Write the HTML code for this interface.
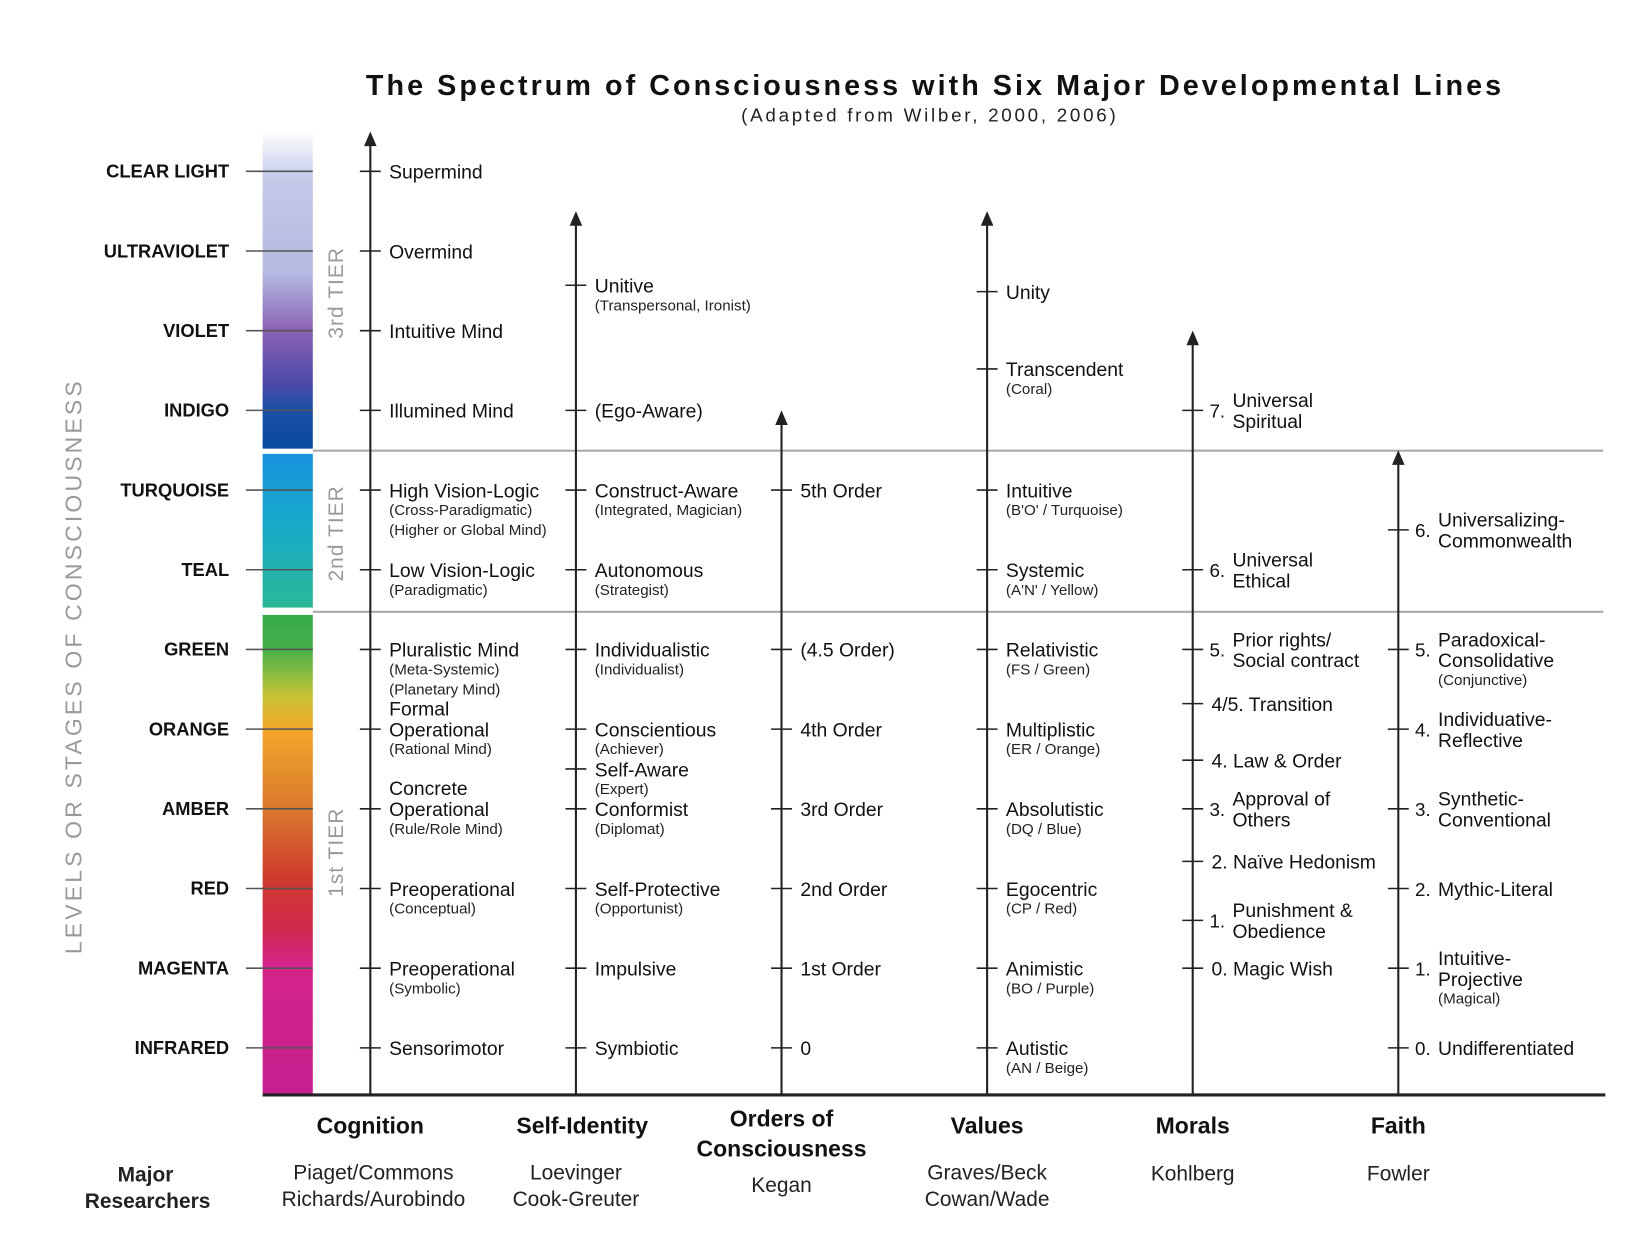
<!DOCTYPE html>
<html><head><meta charset="utf-8"><style>
html,body{margin:0;padding:0;background:#fff;}
svg{display:block;font-family:"Liberation Sans",sans-serif;}
</style></head><body>
<svg id="chart" width="1640" height="1257" viewBox="0 0 1568 1202" xmlns="http://www.w3.org/2000/svg">
<defs>
<linearGradient id="g3" x1="0" y1="0" x2="0" y2="1">
<stop offset="0" stop-color="#ffffff"/><stop offset="0.15" stop-color="#c4cbe9"/><stop offset="0.45" stop-color="#b3b9e0"/>
<stop offset="0.63" stop-color="#8a62b4"/><stop offset="0.8" stop-color="#4a4aa8"/><stop offset="0.88" stop-color="#1a4fa6"/><stop offset="1" stop-color="#0a4b9c"/></linearGradient>
<linearGradient id="g2" x1="0" y1="0" x2="0" y2="1">
<stop offset="0" stop-color="#1992de"/><stop offset="0.45" stop-color="#17aacb"/><stop offset="1" stop-color="#2bb796"/></linearGradient>
<linearGradient id="g1" x1="0" y1="0" x2="0" y2="1">
<stop offset="0" stop-color="#37ab4a"/><stop offset="0.07" stop-color="#45b04a"/><stop offset="0.17" stop-color="#c8c335"/><stop offset="0.24" stop-color="#f3a72a"/>
<stop offset="0.4" stop-color="#da7a2e"/><stop offset="0.55" stop-color="#cf3a2e"/><stop offset="0.65" stop-color="#d02a4a"/><stop offset="0.73" stop-color="#d4248a"/><stop offset="1" stop-color="#c61f90"/></linearGradient>
</defs>
<text x="894" y="91" text-anchor="middle" font-size="27.5" font-weight="bold" letter-spacing="2.9" fill="#111">The Spectrum of Consciousness with Six Major Developmental Lines</text>
<text x="889" y="116" text-anchor="middle" font-size="18" letter-spacing="2.6" fill="#222">(Adapted from Wilber, 2000, 2006)</text>
<rect x="251" y="125" width="48" height="304" fill="url(#g3)"/>
<rect x="251" y="434" width="48" height="147" fill="url(#g2)"/>
<rect x="251" y="588" width="48" height="458" fill="url(#g1)"/>
<line x1="299" y1="431" x2="1533" y2="431" stroke="#aaa" stroke-width="2"/>
<line x1="299" y1="585" x2="1533" y2="585" stroke="#aaa" stroke-width="2"/>
<line x1="251" y1="1047" x2="1535" y2="1047" stroke="#222" stroke-width="3"/>
<text transform="translate(328,280) rotate(-90)" text-anchor="middle" font-size="20" fill="#999" letter-spacing="1">3rd TIER</text>
<text transform="translate(328,510) rotate(-90)" text-anchor="middle" font-size="20" fill="#999" letter-spacing="1">2nd TIER</text>
<text transform="translate(328,815) rotate(-90)" text-anchor="middle" font-size="20" fill="#999" letter-spacing="1">1st TIER</text>
<text transform="translate(78,637) rotate(-90)" text-anchor="middle" font-size="22" fill="#999" letter-spacing="3">LEVELS OR STAGES OF CONSCIOUSNESS</text>
<g id="marks"></g>
<text text-anchor="middle" font-size="20" font-weight="bold" fill="#222"><tspan x="139" y="1130">Major</tspan><tspan x="141" y="1155">Researchers</tspan></text>
</svg>
<script>
const levelNames = ["INFRARED","MAGENTA","RED","AMBER","ORANGE","GREEN","TEAL","TURQUOISE","INDIGO","VIOLET","ULTRAVIOLET","CLEAR LIGHT"];
const lineTitles = [["Cognition"],["Self-Identity"],["Orders of","Consciousness"],["Values"],["Morals"],["Faith"]];
const researchers = [["Piaget/Commons","Richards/Aurobindo"],["Loevinger","Cook-Greuter"],["Kegan"],["Graves/Beck","Cowan/Wade"],["Kohlberg"],["Fowler"]];
const lineTops = [11.5, 10.5, 8.0, 10.5, 9.0, 7.5];
// entries: [level, number, main lines, sub lines]
const cognition = [[11,"",["Supermind"],[]],[10,"",["Overmind"],[]],[9,"",["Intuitive Mind"],[]],[8,"",["Illumined Mind"],[]],
 [7,"",["High Vision-Logic"],["(Cross-Paradigmatic)","(Higher or Global Mind)"]],[6,"",["Low Vision-Logic"],["(Paradigmatic)"]],
 [5,"",["Pluralistic Mind"],["(Meta-Systemic)","(Planetary Mind)"]],[4,"",["Formal","Operational"],["(Rational Mind)"]],
 [3,"",["Concrete","Operational"],["(Rule/Role Mind)"]],[2,"",["Preoperational"],["(Conceptual)"]],[1,"",["Preoperational"],["(Symbolic)"]],[0,"",["Sensorimotor"],[]]];
const selfIdentity = [[9.57,"",["Unitive"],["(Transpersonal, Ironist)"]],[8,"",["(Ego-Aware)"],[]],[7,"",["Construct-Aware"],["(Integrated, Magician)"]],
 [6,"",["Autonomous"],["(Strategist)"]],[5,"",["Individualistic"],["(Individualist)"]],[4,"",["Conscientious"],["(Achiever)"]],
 [3.5,"",["Self-Aware"],["(Expert)"]],[3,"",["Conformist"],["(Diplomat)"]],[2,"",["Self-Protective"],["(Opportunist)"]],[1,"",["Impulsive"],[]],[0,"",["Symbiotic"],[]]];
const orders = [[7,"",["5th Order"],[]],[5,"",["(4.5 Order)"],[]],[4,"",["4th Order"],[]],[3,"",["3rd Order"],[]],[2,"",["2nd Order"],[]],[1,"",["1st Order"],[]],[0,"",["0"],[]]];
const values = [[9.49,"",["Unity"],[]],[8.52,"",["Transcendent"],["(Coral)"]],[7,"",["Intuitive"],["(B'O' / Turquoise)"]],[6,"",["Systemic"],["(A'N' / Yellow)"]],
 [5,"",["Relativistic"],["(FS / Green)"]],[4,"",["Multiplistic"],["(ER / Orange)"]],[3,"",["Absolutistic"],["(DQ / Blue)"]],[2,"",["Egocentric"],["(CP / Red)"]],
 [1,"",["Animistic"],["(BO / Purple)"]],[0,"",["Autistic"],["(AN / Beige)"]]];
const morals = [[8,"7.",["Universal","Spiritual"],[]],[6,"6.",["Universal","Ethical"],[]],[5,"5.",["Prior rights/","Social contract"],[]],[4.32,"",["4/5. Transition"],[]],
 [3.61,"",["4. Law & Order"],[]],[3,"3.",["Approval of","Others"],[]],[2.34,"",["2. Naïve Hedonism"],[]],[1.6,"1.",["Punishment &","Obedience"],[]],[1,"",["0. Magic Wish"],[]]];
const faith = [[6.5,"6.",["Universalizing-","Commonwealth"],[]],[5,"5.",["Paradoxical-","Consolidative"],["(Conjunctive)"]],[4,"4.",["Individuative-","Reflective"],[]],
 [3,"3.",["Synthetic-","Conventional"],[]],[2,"2.",["Mythic-Literal"],[]],[1,"1.",["Intuitive-","Projective"],["(Magical)"]],[0,"0.",["Undifferentiated"],[]]];
const series = [cognition, selfIdentity, orders, values, morals, faith];

const NS="http://www.w3.org/2000/svg";
const xOf = i => 354 + i*196.6;
const yOf = lv => 1002 - lv*76.2;
const g = document.getElementById('marks');
function mk(tag, attrs, text){const e=document.createElementNS(NS,tag);for(const k in attrs)e.setAttribute(k,attrs[k]);if(text!==undefined)e.textContent=text;g.appendChild(e);return e;}

levelNames.forEach((n,i)=>{
  const y=yOf(i);
  const t=mk('text',{x:219,y:y+6,'text-anchor':'end','font-size':17.5,'font-weight':'bold',fill:'#111'},n);
  
  
  const l=mk('line',{x1:235,y1:y,x2:299,y2:y,stroke:'#555','stroke-width':1.5});
  
  
});

series.forEach((entries,si)=>{
  const x=xOf(si);
  const top=yOf(lineTops[si]);
  const ax=mk('line',{x1:x,y1:top+10,x2:x,y2:1047,stroke:'#222','stroke-width':2});
  
  
  const ar=mk('polygon',{points:`${x-6},${top+14} ${x},${top} ${x+6},${top+14}`,fill:'#222'});
  
  
  entries.forEach(e=>{
    const [lv,num,mains,subs]=e;
    const y=yOf(lv);
    const tk=mk('line',{x1:x-10,y1:y,x2:x+10,y2:y,stroke:'#222','stroke-width':1.5});
    
    
    let tx=x+18, last;
    if(num){
      const nt=mk('text',{x:x+16,y:y+7,'font-size':18,fill:'#111'},num);
      
      
      tx=x+38;
      mains.forEach((m,i)=>{last=y+7+(i-(mains.length-1)/2)*20;
        const t=mk('text',{x:tx,y:last,'font-size':18.5,fill:'#111'},m);
        
        });
    } else {
      mains.forEach((m,i)=>{last=y+7-(mains.length-1-i)*20;
        const t=mk('text',{x:tx,y:last,'font-size':18.5,fill:'#111'},m);
        
        });
    }
    subs.forEach((s,j)=>{
      const t=mk('text',{x:tx,y:last+17+j*19,'font-size':14.5,fill:'#222'},s);
      
      });
  });
  const tl=lineTitles[si];
  tl.forEach((s,j)=>{
    const y = tl.length>1 ? 1077+j*29 : 1084;
    const t=mk('text',{x:x+(si==1?6:0),y:y,'text-anchor':'middle','font-size':22,'font-weight':'bold',fill:'#111'},s);
    
    });
  const rs=researchers[si];
  rs.forEach((s,j)=>{
    const y = rs.length>1 ? 1128+j*25 : 1129 + (si==2?11:0);
    const t=mk('text',{x:x+(si==0?3:0),y:y,'text-anchor':'middle','font-size':20,fill:'#222'},s);
    
    });
});
</script>
</body></html>
